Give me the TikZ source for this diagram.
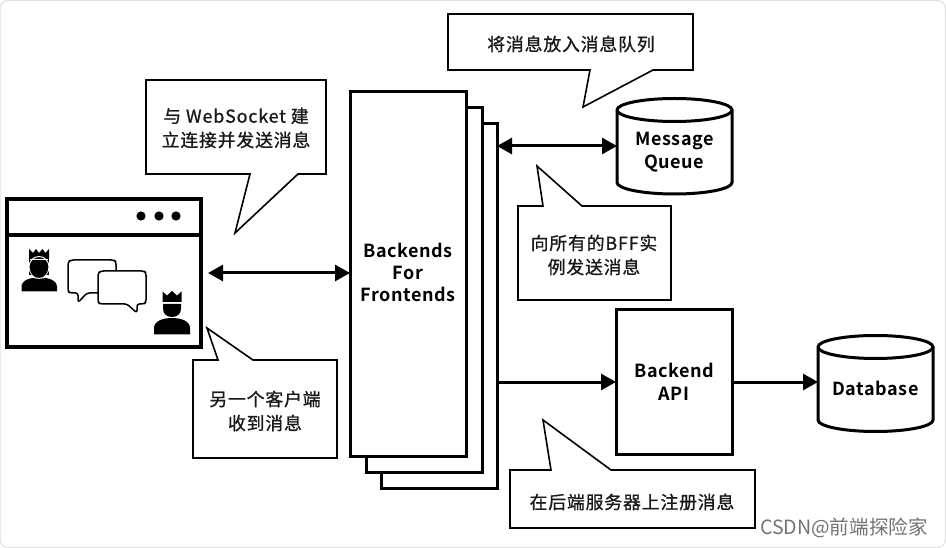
\documentclass[tikz,border=0pt]{standalone}
\usepackage{fontspec}
\usetikzlibrary{arrows.meta}
\setmainfont{Noto Sans CJK JP}
\newfontfamily\callfont[LetterSpace=5,FakeBold=1]{Noto Sans CJK SC}
\newfontfamily\labfont[LetterSpace=3]{Noto Sans CJK JP Bold}
\newfontfamily\wmfont{Noto Sans CJK SC}
\tikzset{
  every node/.style={outer sep=0pt,inner sep=0pt},
  thickbox/.style={draw=black,line width=3pt,fill=white,rectangle},
  stackbox/.style={thickbox,minimum width=116pt,minimum height=364pt},
  cylline/.style={draw=black,line width=3pt,fill=white},
  cylnode/.style={rectangle,minimum width=115pt},
  callout/.style={draw=black,line width=1.6pt,fill=white,line join=miter,miter limit=10},
  calltext/.style={align=center,font=\fontsize{17.8}{24}\selectfont\callfont,text=black!90},
  labeltext/.style={align=center,font=\fontsize{18}{23}\selectfont\labfont,text=black},
  dbl/.style={line width=3pt,{Triangle[length=15pt,width=16pt]}-{Triangle[length=15pt,width=16pt]}},
  sgl/.style={line width=3pt,-{Triangle[length=15pt,width=16pt]}},
  icon/.style={fill=black,draw=none},
  bubble/.style={draw=black,line width=1.5pt,fill=white,line join=round},
}
\begin{document}
\begin{tikzpicture}[x=1pt,y=-1pt]
\useasboundingbox (0,0) rectangle (946,548);
\draw[black!12,line width=1pt,rounded corners=8pt,fill=white] (0,0.5) rectangle (945.5,547.5);

% browser window
\node[draw=black,line width=4.5pt,fill=white,minimum width=194pt,minimum height=148pt] (browser) at (104,273) {};
\draw[line width=4pt] (browser.west |- 0,235) -- (browser.east |- 0,235);
\foreach \px in {141,159,176} \fill (\px,216) circle (4.6pt);

% person 1
\fill[icon] (29,249) -- (33,253) -- (36,249) -- (39,253) -- (42.5,249) -- (45.5,253) -- (49,249) -- (49,258) -- (29,258) -- cycle;
\fill[icon] (29,258) -- (49,258) -- (49,275) -- (29,275) -- cycle;
\draw[white,line width=1pt] (39,267) ellipse (10pt and 10.5pt);
\fill[icon] (39,268.5) ellipse (8.8pt and 9.5pt);
\draw[white,line width=1pt] (30,259.5) -- (48,259.5);
\fill[icon] (21.5,291.5) -- (21.5,287) .. controls (21.5,280) and (30,277.5) .. (39,277.5) .. controls (48,277.5) and (57,280) .. (57,287) -- (57,291.5) -- cycle;
\draw[white,line width=.9pt] (31,276.5) .. controls (35,279) and (43,279) .. (47,276.5);

% person 2
\fill[icon] (162.5,291.5) -- (167,295.5) -- (172,291) -- (177,295.5) -- (181.5,291.5) -- (181.5,302) -- (162.5,302) -- cycle;
\fill[icon] (163,304) -- (181,304) -- (181,309) .. controls (181,314) and (177,317) .. (172,317) .. controls (167,317) and (163,314) .. (163,309) -- cycle;
\fill[icon] (154,334.5) -- (154,328) .. controls (154,321) and (163,318) .. (172,318) .. controls (181,318) and (190,321) .. (190,328) -- (190,334.5) -- cycle;

% chat bubbles
\draw[bubble,rounded corners=2.5pt] (71,260) -- (114,260) -- (116,262) -- (116,291) -- (114,293) -- (87,293) -- (78,302.5) -- (78,293) -- (70,293) -- (68,291) -- (68,262) -- cycle;
\draw[bubble,rounded corners=2.5pt] (101,271) -- (144,271) -- (146,273) -- (146,302) -- (144,304) -- (137,304) -- (137,313) -- (127,304) -- (100,304) -- (98,302) -- (98,273) -- cycle;

% backends stack
\node[stackbox] (bffc) at (439,306) {};
\node[stackbox] (bffb) at (424,290) {};
\node[stackbox] (bff) at (408,274) {};
\node[labeltext] (bfflabel) at (408,272.5) {Backends\\[-1pt]For\\[-1pt]Frontends};

% message queue
\draw[cylline] (617,110) arc[start angle=180,end angle=0,x radius=57.5pt,y radius=11.5pt] -- (732,182.5) arc[start angle=0,end angle=-180,x radius=57.5pt,y radius=11.5pt] -- cycle;
\draw[line width=3pt] (617,110) arc[start angle=180,end angle=360,x radius=57.5pt,y radius=11.5pt];
\node[cylnode,minimum height=96pt] (mq) at (674.5,146) {};
\node[labeltext] (mqlabel) at (674.5,152) {Message\\Queue};

% backend API
\node[thickbox,minimum width=116pt,minimum height=144pt,labeltext] (api) at (674,382) {Backend\\API};

% database
\draw[cylline] (818,347) arc[start angle=180,end angle=0,x radius=57.5pt,y radius=11.5pt] -- (933,420) arc[start angle=0,end angle=-180,x radius=57.5pt,y radius=11.5pt] -- cycle;
\draw[line width=3pt] (818,347) arc[start angle=180,end angle=360,x radius=57.5pt,y radius=11.5pt];
\node[cylnode,minimum height=97pt] (db) at (875.5,383.5) {};
\node[labeltext] (dblabel) at (875.5,388) {Database};

% connectors
\draw[dbl] ([xshift=7pt]browser.east) -- (bff.west |- browser.east);
\draw[dbl] (bffc.east |- 0,146) -- (mq.west |- 0,146);
\draw[sgl] (bffc.east |- api.west) -- (api.west);
\draw[sgl] (api.east) -- (db.west |- api.east);

% callouts
\draw[callout] (146,80) -- (326,80) -- (326,174) -- (298,174) -- (235,233) -- (250,174) -- (146,174) -- cycle;
\node[calltext] (c1) at (236,128) {与 WebSocket 建\\立连接并发送消息};
\draw[callout] (448,14) -- (693,14) -- (693,70) -- (653,70) -- (583,107) -- (590,70) -- (448,70) -- cycle;
\node[calltext] (c2) at (571,44) {将消息放入消息队列};
\draw[callout] (518,206) -- (543,206) -- (537,166) -- (582,206) -- (671,206) -- (671,300) -- (518,300) -- cycle;
\node[calltext] (c3) at (594,255) {向所有的BFF实\\例发送消息};
\draw[callout] (193,360) -- (218,360) -- (207,328) -- (253,360) -- (337,360) -- (337,458) -- (193,458) -- cycle;
\node[calltext] (c4) at (265,411) {另一个客户端\\收到消息};
\draw[callout] (510,470) -- (551,470) -- (543,420) -- (611,470) -- (755,470) -- (755,528) -- (510,528) -- cycle;
\node[calltext] (c5) at (632,502) {在后端服务器上注册消息};

% watermark
\node[anchor=west,font=\fontsize{19.6}{20}\selectfont\wmfont,text=black!55] (wm) at (760,528) {CSDN@前端探险家};
\end{tikzpicture}
\end{document}
